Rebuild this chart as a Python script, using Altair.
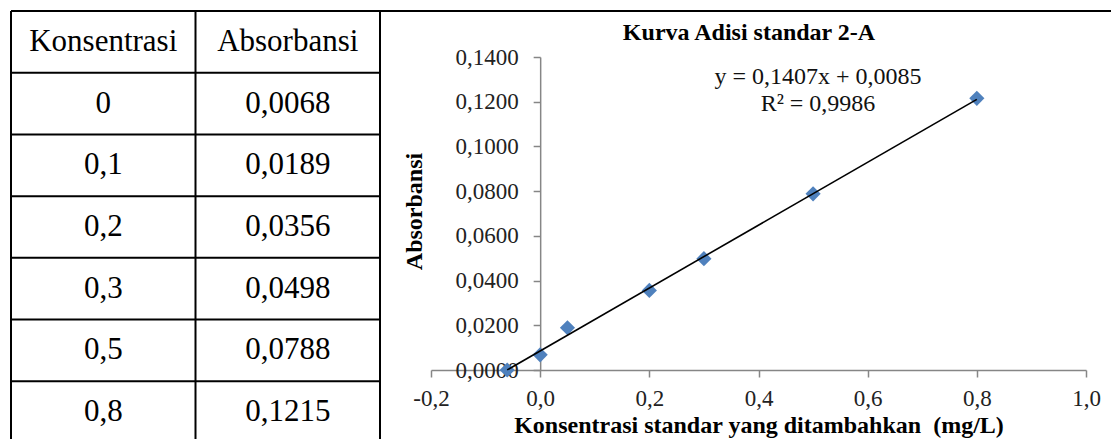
import altair as alt
import pandas as pd

# ---------------- data ----------------
# table (as printed)
table_headers = ["Konsentrasi", "Absorbansi"]
konsentrasi = [0, 0.1, 0.2, 0.3, 0.5, 0.8]
absorbansi = [0.0068, 0.0189, 0.0356, 0.0498, 0.0788, 0.1215]

# chart (as plotted)
x_plot = [0, 0.05, 0.2, 0.3, 0.5, 0.8]
x_intercept = [-0.0604]
y_intercept = [0.0]

slope = 0.1407
intercept = 0.0085
r_squared = 0.9986

x_ticks = [-0.2, 0.0, 0.2, 0.4, 0.6, 0.8, 1.0]
y_ticks = [0.0, 0.02, 0.04, 0.06, 0.08, 0.10, 0.12, 0.14]

chart_title = "Kurva Adisi standar 2-A"
x_title = "Konsentrasi standar yang ditambahkan\u00a0 (mg/L)"
y_title = "Absorbansi"

FONT = "Liberation Serif"


def comma(v, fmt):
    return format(v, fmt).replace(".", ",")


# ---------------- table ----------------
cells = []
for c, h in enumerate(table_headers):
    cells.append({"col": c + 0.5, "row": 0.5, "label": h})
for i, (k, a) in enumerate(zip(konsentrasi, absorbansi)):
    cells.append({"col": 0.5, "row": i + 1.5, "label": f"{k:g}".replace(".", ",")})
    cells.append({"col": 1.5, "row": i + 1.5, "label": comma(a, ".4f")})
cells_df = pd.DataFrame(cells)

n_rows = len(konsentrasi) + 1
n_cols = len(table_headers)
hlines_df = pd.DataFrame(
    [{"x": 0, "x2": (n_cols if r > 0 else 6), "y": r} for r in range(n_rows)]
)
vlines_df = pd.DataFrame([{"x": c, "y": 0, "y2": n_rows} for c in range(n_cols + 1)])

tx = alt.Scale(domain=[0, n_cols], range=[-420, -51], nice=False, zero=False)
ty = alt.Scale(domain=[0, n_rows], range=[-46, 386], nice=False, zero=False)

t_h = alt.Chart(hlines_df).mark_rule(color="black", strokeWidth=2).encode(
    x=alt.X("x:Q", scale=tx, axis=None),
    x2="x2:Q",
    y=alt.Y("y:Q", scale=ty, axis=None),
)
t_v = alt.Chart(vlines_df).mark_rule(color="black", strokeWidth=2).encode(
    x=alt.X("x:Q", scale=tx, axis=None),
    y=alt.Y("y:Q", scale=ty, axis=None),
    y2="y2:Q",
)
t_text = alt.Chart(cells_df).mark_text(
    font=FONT, fontSize=31, color="black", align="center", baseline="middle"
).encode(
    x=alt.X("col:Q", scale=tx, axis=None),
    y=alt.Y("row:Q", scale=ty, axis=None),
    text="label:N",
)
table_layer = alt.layer(t_h, t_v, t_text)

# ---------------- plot ----------------
pts_df = pd.DataFrame({"x": x_plot, "y": absorbansi})
icpt_df = pd.DataFrame({"x": x_intercept, "y": y_intercept})

xs = alt.Scale(domain=[x_ticks[0], x_ticks[-1]], nice=False, zero=False)
ys = alt.Scale(domain=[y_ticks[0], y_ticks[-1]], nice=False, zero=False)

W, H = 655, 313
AX = "#868686"
LBL = "#222222"

x_axis = alt.Axis(
    values=x_ticks,
    labelExpr="replace(replace(format(datum.value, '.1f'), '.', ','), '\u2212', '-')",
    title=x_title,
    grid=False,
    domainColor=AX,
    domainWidth=1.5,
    tickColor=AX,
    tickWidth=1.5,
    tickSize=7,
    labelFont=FONT,
    labelFontSize=23,
    labelColor=LBL,
    labelPadding=10,
    labelFlush=False,
    labelOverlap=False,
    titleFont=FONT,
    titleFontSize=24,
    titleFontWeight="bold",
    titleColor="black",
    titleBaseline="alphabetic",
    titleY=62,
)
y_axis = alt.Axis(
    values=y_ticks,
    labelExpr="replace(format(datum.value, '.4f'), '.', ',')",
    title=y_title,
    grid=False,
    offset=-W * (0 - x_ticks[0]) / (x_ticks[-1] - x_ticks[0]),
    domainColor=AX,
    domainWidth=1.5,
    tickColor=AX,
    tickWidth=1.5,
    tickSize=7,
    labelFont=FONT,
    labelFontSize=23,
    labelColor=LBL,
    labelPadding=15,
    labelOverlap=False,
    labelFlush=False,
    titleFont=FONT,
    titleFontSize=24,
    titleFontWeight="bold",
    titleColor="black",
    titleAngle=-90,
    titleAlign="center",
    titleBaseline="middle",
    titleX=-126,
    titleY=154,
)

points = alt.Chart(pts_df).mark_point(
    shape="diamond", filled=True, size=230, color="#4F81BD", opacity=1
).encode(
    x=alt.X("x:Q", scale=xs, axis=x_axis),
    y=alt.Y("y:Q", scale=ys, axis=y_axis),
)
icpt_points = alt.Chart(icpt_df).mark_point(
    shape="diamond", filled=True, size=230, color="#4F81BD", opacity=1
).encode(x=alt.X("x:Q", scale=xs), y=alt.Y("y:Q", scale=ys))

trend = alt.Chart(pts_df).transform_regression(
    "x", "y", extent=[x_intercept[0], x_plot[-1]]
).mark_line(color="black", strokeWidth=1.6).encode(
    x=alt.X("x:Q", scale=xs), y=alt.Y("y:Q", scale=ys)
)

eq_lines = [
    f"y = {comma(slope, '.4f')}x + {comma(intercept, '.4f')}",
    f"R² = {comma(r_squared, '.4f')}",
]
eq_text = alt.Chart(pd.DataFrame({"t": [eq_lines]})).mark_text(
    font=FONT, fontSize=24, color="#111111", align="center", baseline="middle",
    lineHeight=27,
).encode(x=alt.value(387), y=alt.value(20), text="t")

title_text = alt.Chart(pd.DataFrame({"t": [chart_title]})).mark_text(
    font=FONT, fontSize=24, fontWeight="bold", color="black",
    align="center", baseline="middle",
).encode(x=alt.value(318), y=alt.value(-24), text="t:N")

plot_layer = alt.layer(points, icpt_points, trend, eq_text, title_text)

chart = (
    alt.layer(plot_layer, table_layer)
    .resolve_scale(x="independent", y="independent")
    .properties(
        width=W,
        height=H,
        autosize=alt.AutoSizeParams(type="none"),
        padding={"left": 423, "top": 49, "right": 25, "bottom": 69},
        background="white",
    )
    .configure_view(stroke=None)
)

chart.save("out.html", embed_options={"renderer": "svg", "actions": False})
